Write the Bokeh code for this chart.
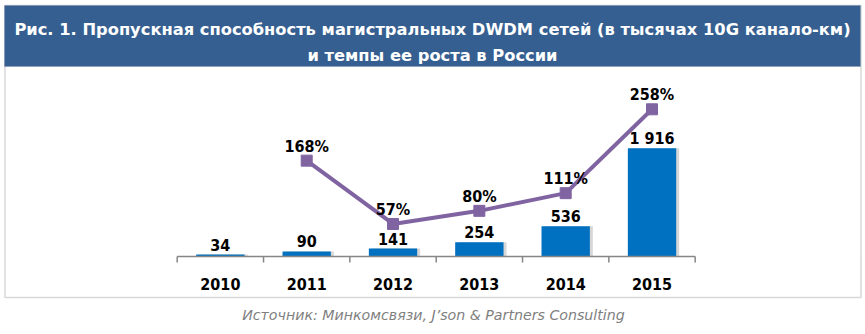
from bokeh.plotting import figure
from bokeh.models import Range1d, ColumnDataSource, BoxAnnotation, Label
from bokeh.core.properties import value
from bokeh.embed import file_html
from bokeh.resources import INLINE

# ---------------- data ----------------
years = ["2010", "2011", "2012", "2013", "2014", "2015"]
capacity = [34, 90, 141, 254, 536, 1916]
capacity_labels = ["34", "90", "141", "254", "536", "1 916"]
growth_years = ["2011", "2012", "2013", "2014", "2015"]
growth = [168, 57, 80, 111, 258]
growth_labels = ["168%", "57%", "80%", "111%", "258%"]

title_lines = ["Рис. 1. Пропускная способность магистральных DWDM сетей (в тысячах 10G канало-км)",
               "и темпы ее роста в России"]
source_text = "Источник: Минкомсвязи, J’son & Partners Consulting"

# ---------------- style / layout ----------------
BAR = "#0070C0"
LINE = "#8064A2"
HEAD = "#365F91"
GRAY = "#868686"
FONT = "DejaVu Sans Condensed"
TFONT = "DejaVu Sans"

W, H = 865, 334
AXIS_LEFT_PX = 176.7      # left end of the category axis (canvas px)
SLOT_PX = 86.33           # width of one category slot (px)
BASE_PX = 256             # canvas y of the baseline
UNIT_PX = 108.3 / 1916    # px per thousand channel-km
PCT_PX = 0.5706           # px per percent (secondary scale)

x_range = Range1d(-AXIS_LEFT_PX / SLOT_PX, (W - AXIS_LEFT_PX) / SLOT_PX)
y_range = Range1d(-(H - BASE_PX) / UNIT_PX, BASE_PX / UNIT_PX)

p = figure(width=W, height=H, x_range=x_range, y_range=y_range,
           output_backend="svg", toolbar_location=None, title_location=None,
           x_axis_location=None, y_axis_location=None,
           min_border=0, min_border_left=0, min_border_right=0,
           min_border_top=0, min_border_bottom=0)
p.outline_line_color = None
p.xgrid.visible = False
p.ygrid.visible = False
p.background_fill_color = "white"
p.border_fill_color = "white"
p.extra_y_ranges = {"pct": Range1d(-(H - BASE_PX) / PCT_PX, BASE_PX / PCT_PX)}


def pos(cat):
    return years.index(cat) + 0.5


def sy(canvas_y):
    # screen units are measured upward from the frame bottom
    return H - canvas_y


# ---------------- frame decorations ----------------
p.add_layout(BoxAnnotation(left=4.5, right=860.5, bottom=sy(297), top=sy(5),
                           left_units="screen", right_units="screen",
                           top_units="screen", bottom_units="screen",
                           fill_alpha=0, line_color="#7F7F7F", line_width=1.5,
                           level="underlay"))
p.add_layout(BoxAnnotation(left=4, right=860, bottom=sy(66), top=sy(5),
                           left_units="screen", right_units="screen",
                           top_units="screen", bottom_units="screen",
                           fill_color=HEAD, fill_alpha=1, line_color="#7F8DA3",
                           line_width=1, level="underlay"))
for txt, base in zip(title_lines, [28.5, 55]):
    p.add_layout(Label(x=432, y=sy(base), x_units="screen", y_units="screen", text=txt,
                       text_align="center", text_baseline="alphabetic", text_font=TFONT,
                       text_font_style="bold", text_font_size="16.3px", text_color="white"))
p.add_layout(Label(x=433, y=sy(314.5), x_units="screen", y_units="screen", text=source_text,
                   text_align="center", text_baseline="alphabetic", text_font=TFONT,
                   text_font_style="italic", text_font_size="14.2px", text_color="#7F7F7F"))

# ---------------- bars ----------------
src = ColumnDataSource(dict(x=[pos(y) for y in years], y=capacity, lab=capacity_labels))
src.data["xs"] = [x + 3 / SLOT_PX for x in src.data["x"]]
p.vbar(x="xs", top="y", bottom=0, width=0.56, source=src,
       fill_color="#A6A6A6", fill_alpha=0.45, line_color=None)
p.vbar(x="x", top="y", bottom=0, width=0.56, source=src, fill_color=BAR, line_color=None)
p.text(x="x", y="y", text="lab", source=src, text_align="center", text_baseline="alphabetic",
       y_offset=-10, text_font=value(FONT), text_font_style="bold", text_font_size="16px",
       text_color="black")

# ---------------- category axis ----------------
bounds = list(range(len(years) + 1))
p.segment(x0=[bounds[0]], x1=[bounds[-1]], y0=[0], y1=[0], line_color=GRAY, line_width=1.5)
p.segment(x0=bounds, x1=bounds, y0=[0] * len(bounds), y1=[-6 / UNIT_PX] * len(bounds),
          line_color=GRAY, line_width=1.5)
p.text(x=[pos(y) for y in years], y=[0] * len(years), text=years, text_align="center",
       text_baseline="alphabetic", y_offset=27, text_font=value(FONT),
       text_font_style="bold", text_font_size="16px", text_color="black")

# ---------------- growth line ----------------
gsrc = ColumnDataSource(dict(x=[pos(y) for y in growth_years], y=growth, lab=growth_labels))
p.line(x="x", y="y", source=gsrc, y_range_name="pct", line_color=LINE, line_width=4)
p.scatter(x="x", y="y", source=gsrc, y_range_name="pct", marker="square", size=11,
          fill_color=LINE, line_color=LINE)
p.text(x="x", y="y", text="lab", source=gsrc, y_range_name="pct", text_align="center",
       text_baseline="alphabetic", y_offset=-14.5, text_font=value(FONT),
       text_font_style="bold", text_font_size="16px", text_color="black")

open("out.html", "w").write(file_html(p, INLINE))
